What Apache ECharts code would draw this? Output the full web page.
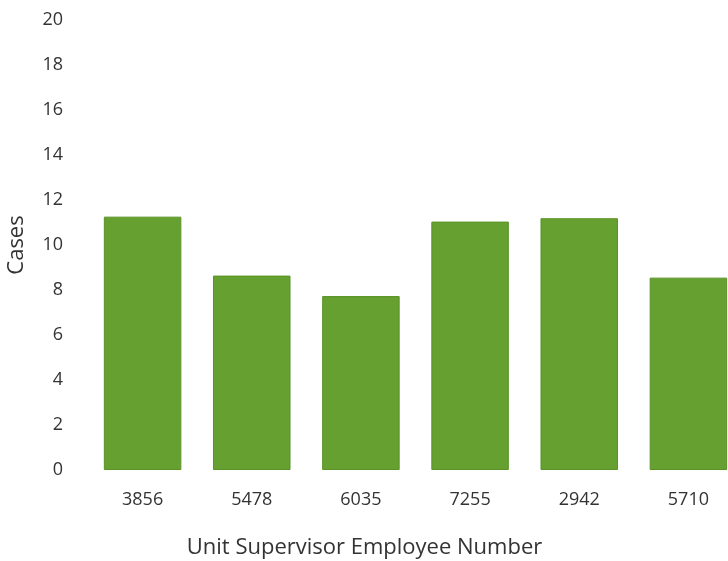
<!DOCTYPE html>
<html>
<head>
<meta charset="utf-8">
<script src="https://cdn.jsdelivr.net/npm/echarts@6/dist/echarts.min.js"></script>
<style>
  html, body { margin: 0; padding: 0; background: #fff; }
  #chart { width: 728px; height: 561px; }
</style>
</head>
<body>
<div id="chart"></div>
<script>
  // employee numbers along the x axis
  const employees = ['3856', '5478', '6035', '7255', '2942', '5710'];
  // cases per supervisor
  const cases = [11.26, 8.64, 7.73, 11.04, 11.19, 8.55];

  const chart = echarts.init(document.getElementById('chart'));
  const font = '"Open Sans", "Noto Sans", sans-serif';

  // the plot runs off the right edge in the original, so the grid is wider than the page
  chart.setOption({
    animation: false,
    grid: { left: 88, top: 20, width: 655, bottom: 91, outerBoundsMode: 'none', containLabel: false },
    xAxis: {
      type: 'category',
      data: employees,
      name: 'Unit Supervisor Employee Number',
      nameLocation: 'middle',
      nameGap: 67,
      nameTextStyle: { fontFamily: font, fontSize: 22, color: '#333', padding: [0, 102, 0, 0] },
      axisLine: { show: false },
      axisTick: { show: false },
      axisLabel: { margin: 21, fontFamily: font, fontSize: 18, color: '#333' }
    },
    yAxis: {
      type: 'value',
      min: 0,
      max: 20,
      interval: 2,
      name: 'Cases',
      nameLocation: 'middle',
      nameGap: 60,
      nameTextStyle: { fontFamily: font, fontSize: 22, color: '#333' },
      splitLine: { show: false },
      axisLabel: { margin: 25, fontFamily: font, fontSize: 18, color: '#333' }
    },
    series: [{
      type: 'bar',
      data: cases,
      barWidth: '71%',
      itemStyle: { color: '#65a030', borderColor: '#5a9226', borderWidth: 1 }
    }]
  });
</script>
</body>
</html>
